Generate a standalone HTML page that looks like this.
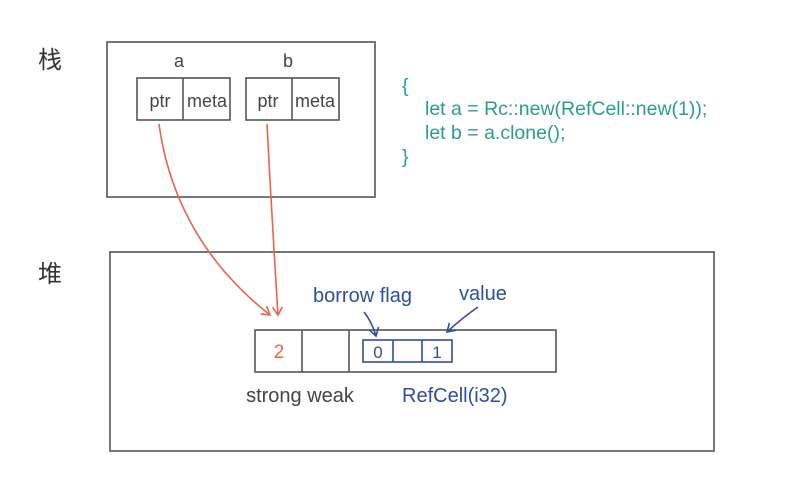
<!DOCTYPE html>
<html><head><style>
body{margin:0;background:#fff;}
svg text{font-family:"Liberation Sans","Noto Sans CJK SC",sans-serif;}
</style></head><body>
<svg width="810" height="482" xmlns="http://www.w3.org/2000/svg">
<defs>
<marker id="ar" markerWidth="12" markerHeight="12" refX="9" refY="6" orient="auto" markerUnits="userSpaceOnUse"><path d="M1,1 L9,6 L1,11" fill="none" stroke="#e8644a" stroke-width="1.6"/></marker>
<marker id="ab" markerWidth="12" markerHeight="12" refX="9" refY="6" orient="auto" markerUnits="userSpaceOnUse"><path d="M1,1 L9,6 L1,11" fill="none" stroke="#2d4fa0" stroke-width="1.6"/></marker>
</defs>
<text x="38" y="68" font-size="24" fill="#333">栈</text>
<text x="38" y="282" font-size="24" fill="#333">堆</text>
<g fill="none" stroke="#555" stroke-width="1.6">
<rect x="107" y="42" width="268" height="155"/>
<rect x="137" y="78" width="93" height="42"/><line x1="183" y1="78" x2="183" y2="120"/>
<rect x="246" y="78" width="93" height="42"/><line x1="292" y1="78" x2="292" y2="120"/>
<rect x="110" y="252" width="604" height="199"/>
<rect x="255" y="330" width="301" height="42"/><line x1="302" y1="330" x2="302" y2="372"/><line x1="349" y1="330" x2="349" y2="372"/>
</g>
<g font-size="18" fill="#444" text-anchor="middle">
<text x="179" y="67">a</text><text x="288" y="67">b</text>
<text x="160" y="107">ptr</text><text x="207" y="107">meta</text>
<text x="268" y="107">ptr</text><text x="315" y="107">meta</text>
<text x="300" y="402" font-size="20">strong weak</text>
</g>
<text x="279" y="358" font-size="19" fill="#e8644a" text-anchor="middle">2</text>
<g fill="none" stroke="#2d4fa0" stroke-width="1.6">
<rect x="363" y="340" width="89" height="22"/><line x1="393" y1="340" x2="393" y2="362"/><line x1="422" y1="340" x2="422" y2="362"/>
<path d="M364,312 Q372,322 376,336" marker-end="url(#ab)"/>
<path d="M478,307 Q462,318 447,332" marker-end="url(#ab)"/>
</g>
<g font-size="20" fill="#2d4fa0">
<text x="378" y="358" text-anchor="middle" font-size="17">0</text>
<text x="437" y="358" text-anchor="middle" font-size="17">1</text>
<text x="313" y="302">borrow flag</text>
<text x="459" y="300">value</text>
<text x="402" y="402">RefCell(i32)</text>
</g>
<g fill="none" stroke="#e8644a" stroke-width="1.6">
<path d="M159,124 Q175,240 270,315" marker-end="url(#ar)"/>
<path d="M267,124 Q272,220 278,315" marker-end="url(#ar)"/>
</g>
<g font-size="19.5" fill="#2a9d8f">
<text x="402" y="92">{</text>
<text x="425" y="115">let a = Rc::new(RefCell::new(1));</text>
<text x="425" y="139">let b = a.clone();</text>
<text x="402" y="163">}</text>
</g>
</svg>
</body></html>
